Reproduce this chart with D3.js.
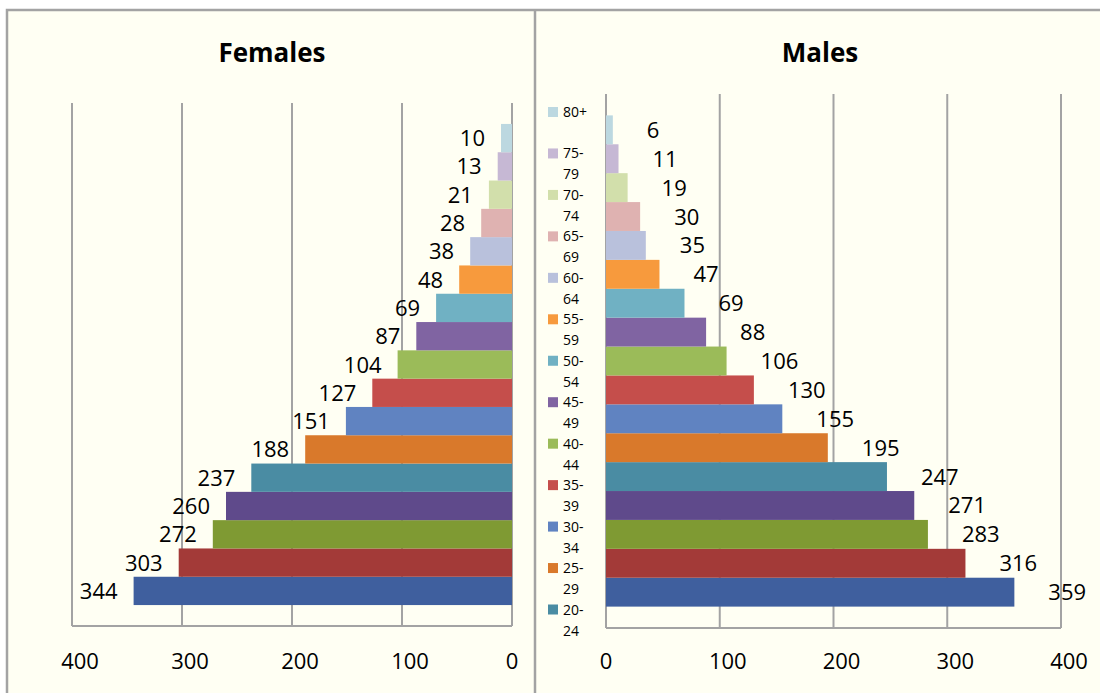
<!DOCTYPE html>
<html>
<head>
<meta charset="utf-8">
<script src="https://cdn.jsdelivr.net/npm/d3@7"></script>
<style>
  body { margin: 0; background: #ffffff; }
  text { font-family: "Open Sans", "Noto Sans", sans-serif; fill: #000; }
</style>
</head>
<body>
<div id="viz-container"></div>
<script>
// age groups, bottom bar first
let ages = ["0-4", "5-9", "10-14", "15-19", "20-24", "25-29", "30-34", "35-39",
  "40-44", "45-49", "50-54", "55-59", "60-64", "65-69", "70-74", "75-79", "80+"];
let females = [344, 303, 272, 260, 237, 188, 151, 127, 104, 87, 69, 48, 38, 28, 21, 13, 10];
let males = [359, 316, 283, 271, 247, 195, 155, 130, 106, 88, 69, 47, 35, 30, 19, 11, 6];
let barColors = ["#3f5f9e", "#a33a38", "#7f9a33", "#5f4a8b", "#4a8ca3", "#d9792b",
  "#6083c1", "#c54e4b", "#9bbb59", "#8064a2", "#70b1c3", "#f79a3d",
  "#b9c1dc", "#dfb2b1", "#d2dfab", "#c6b8d4", "#bcd8e0"];
let tickValues = [0, 100, 200, 300, 400];
// legend only shows the groups that fit
let legendAges = ages.slice(4).reverse();

let w = 1100, h = 693;
let grey = "#a3a3a3";

let viz = d3.select("#viz-container")
    .append("svg")
    .attr("width", w)
    .attr("height", h);

// chart frame
viz.append("rect")
    .attr("x", 7).attr("y", 10)
    .attr("width", 1110).attr("height", 700)
    .attr("fill", "#fffff3")
    .attr("stroke", grey)
    .attr("stroke-width", 2.5);
viz.append("line")
    .attr("x1", 535).attr("x2", 535)
    .attr("y1", 10).attr("y2", h)
    .attr("stroke", grey)
    .attr("stroke-width", 2.5);

function drawPanel(values, xRange, yRange, title, titleX, labelSide) {
    let xScale = d3.scaleLinear().domain([0, 400]).range(xRange);
    let yScale = d3.scaleBand().domain(ages).range(yRange)
        .paddingInner(0).paddingOuter(0.74);
    let g = viz.append("g");

    // gridlines
    g.selectAll(".grid").data(tickValues).enter()
        .append("line")
        .attr("x1", d => xScale(d)).attr("x2", d => xScale(d))
        .attr("y1", yRange[1]).attr("y2", yRange[0])
        .attr("stroke", grey)
        .attr("stroke-width", 2);
    g.append("line")
        .attr("x1", d3.min(xRange)).attr("x2", d3.max(xRange))
        .attr("y1", yRange[0]).attr("y2", yRange[0])
        .attr("stroke", grey)
        .attr("stroke-width", 2);

    // bars
    g.selectAll(".bar").data(values).enter()
        .append("rect")
        .attr("x", d => Math.min(xScale(0), xScale(d)))
        .attr("y", (d, i) => yScale(ages[i]))
        .attr("width", d => Math.abs(xScale(d) - xScale(0)))
        .attr("height", yScale.bandwidth())
        .attr("fill", (d, i) => barColors[i]);

    // data labels
    g.selectAll(".lbl").data(values).enter()
        .append("text")
        .attr("x", d => labelSide < 0 ? xScale(d) - 16 : xScale(d) + 34)
        .attr("y", (d, i) => yScale(ages[i]) + yScale.bandwidth() / 2 + 8)
        .attr("text-anchor", labelSide < 0 ? "end" : "start")
        .style("font-size", "22px")
        .text(d => d);

    // tick labels
    g.selectAll(".tick").data(tickValues).enter()
        .append("text")
        .attr("x", d => xScale(d) + (d === 0 ? 0 : 8))
        .attr("y", 669)
        .attr("text-anchor", "middle")
        .style("font-size", "22px")
        .text(d => d);

    viz.append("text")
        .attr("x", titleX).attr("y", 62)
        .attr("text-anchor", "middle")
        .style("font-size", "26px")
        .style("font-weight", "bold")
        .text(title);
}

drawPanel(females, [512, 72], [626, 103], "Females", 272, -1);
drawPanel(males, [606, 1061], [628, 94], "Males", 820, 1);

// legend
let legendY = d3.scalePoint().domain(legendAges).range([112, 609.5]);
let legend = viz.selectAll(".legend").data(legendAges).enter()
    .append("g")
    .attr("transform", d => "translate(548," + legendY(d) + ")");
legend.append("rect")
    .attr("x", 0).attr("y", -5)
    .attr("width", 10).attr("height", 10)
    .attr("fill", d => barColors[ages.indexOf(d)]);
let legendText = legend.append("text")
    .attr("x", 15).attr("y", 5)
    .style("font-size", "14px");
legendText.each(function(d) {
    let parts = d.includes("-") ? [d.split("-")[0] + "-", d.split("-")[1]] : [d];
    d3.select(this).selectAll("tspan").data(parts).enter()
        .append("tspan")
        .attr("x", 15)
        .attr("dy", (p, i) => i === 0 ? 0 : 21)
        .text(p => p);
});
</script>
</body>
</html>
